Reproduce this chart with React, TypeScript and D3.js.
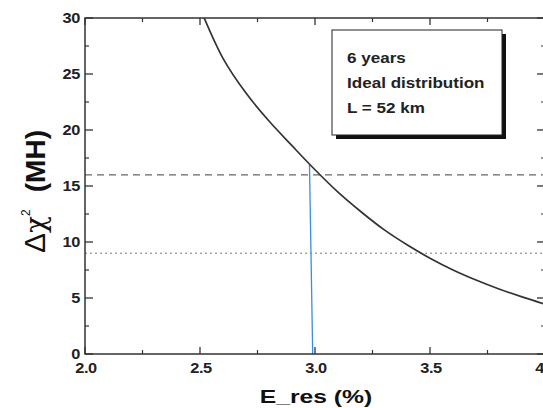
import React from "react";
import * as d3 from "d3";

const xValues = [2.5, 2.6, 2.7, 2.8, 2.9, 3.0, 3.1, 3.2, 3.3, 3.4, 3.5, 3.6, 3.7, 3.8, 3.9, 4.0];
const chiValues = [30.9, 26.4, 23.3, 20.8, 18.6, 16.45, 14.45, 12.7, 11.1, 9.75, 8.55, 7.5, 6.6, 5.8, 5.1, 4.45];
const xTicks = [2.0, 2.5, 3.0, 3.5, 4.0];
const xMinor = [2.25, 2.75, 3.25, 3.75];
const yTicks = [0, 5, 10, 15, 20, 25, 30];
const yMinor = [2.5, 7.5, 12.5, 17.5, 22.5, 27.5];
const dashedLevel = 16;
const dottedLevel = 9;
const blueLineX = [2.976, 2.99];
const blueLineY = [16.9, 0];
const legendLines = ["6 years", "Ideal distribution", "L = 52 km"];

export default function App() {
  const W = 543, H = 408;
  const left = 85, right = 545, top = 18, bottom = 354;
  const x = d3.scaleLinear().domain([2.0, 4.0]).range([left, right]);
  const y = d3.scaleLinear().domain([0, 30]).range([bottom, top]);
  const line = d3.line<number>().x((_, i) => x(xValues[i])).y((d) => y(d)).curve(d3.curveCatmullRom);
  const axisColor = "#333";
  const font = "Liberation Sans, Arial, sans-serif";
  const sx = 1.17;
  return (
    <svg width={W} height={H} style={{ position: "absolute", left: 0, top: 0, background: "#fff" }}>
      <defs>
        <clipPath id="plot">
          <rect x={left} y={top} width={right - left} height={bottom - top} />
        </clipPath>
      </defs>
      <rect x={0} y={0} width={W} height={H} fill="#fff" />
      <line x1={left} x2={right} y1={y(dashedLevel)} y2={y(dashedLevel)} stroke="#666" strokeWidth={1.3} strokeDasharray="7,5" />
      <line x1={left} x2={right} y1={y(dottedLevel)} y2={y(dottedLevel)} stroke="#777" strokeWidth={1} strokeDasharray="2,3" />
      <line x1={x(blueLineX[0])} x2={x(blueLineX[1])} y1={y(blueLineY[0])} y2={y(blueLineY[1])} stroke="#3a8ee0" strokeWidth={1.3} />
      <path d={line(chiValues) || ""} fill="none" stroke="#333" strokeWidth={1.7} clipPath="url(#plot)" />
      <rect x={left} y={top} width={right - left} height={bottom - top} fill="none" stroke={axisColor} strokeWidth={1.5} />
      {yTicks.map((t) => (
        <g key={"y" + t}>
          <line x1={left} x2={left + 8} y1={y(t)} y2={y(t)} stroke={axisColor} strokeWidth={1.3} />
          <line x1={right} x2={right - 8} y1={y(t)} y2={y(t)} stroke={axisColor} strokeWidth={1.3} />
          <g transform={`translate(${left - 5},${y(t) + 5}) scale(${sx},1)`}>
            <text x={0} y={0} textAnchor="end" fontFamily={font} fontWeight="bold" fontSize={14} fill="#222" letterSpacing={-0.3}>{t}</text>
          </g>
        </g>
      ))}
      {yMinor.map((t) => (
        <g key={"ym" + t}>
          <line x1={left} x2={left + 4} y1={y(t)} y2={y(t)} stroke={axisColor} strokeWidth={1.2} />
          <line x1={right} x2={right - 4} y1={y(t)} y2={y(t)} stroke={axisColor} strokeWidth={1.2} />
        </g>
      ))}
      {xTicks.map((t) => (
        <g key={"x" + t}>
          <line x1={x(t)} x2={x(t)} y1={bottom} y2={bottom - 7} stroke={axisColor} strokeWidth={1.3} />
          <line x1={x(t)} x2={x(t)} y1={top} y2={top + 7} stroke={axisColor} strokeWidth={1.3} />
          <g transform={`translate(${x(t) + 1},${bottom + 19}) scale(${sx},1)`}>
            <text x={0} y={0} textAnchor="middle" fontFamily={font} fontWeight="bold" fontSize={14} fill="#222" letterSpacing={-0.3}>{t.toFixed(1)}</text>
          </g>
        </g>
      ))}
      {xMinor.map((t) => (
        <g key={"xm" + t}>
          <line x1={x(t)} x2={x(t)} y1={bottom} y2={bottom - 4} stroke={axisColor} strokeWidth={1.2} />
          <line x1={x(t)} x2={x(t)} y1={top} y2={top + 4} stroke={axisColor} strokeWidth={1.2} />
        </g>
      ))}
      <g transform="translate(316,403) scale(1.3,1)">
        <text x={0} y={0} textAnchor="middle" fontFamily={font} fontWeight="bold" fontSize={19} fill="#111">E_res (%)</text>
      </g>
      <g transform="translate(45,0) rotate(-90)">
        <text x={-253} y={0} textAnchor="start" fontFamily={font} fill="#111">
          <tspan fontSize={30}>Δ</tspan>
          <tspan fontFamily="DejaVu Serif, serif" fontSize={28}>χ</tspan>
          <tspan fontSize={12} dy={-15}>2</tspan>
        </text>
        <text x={-130} y={0} textAnchor="end" fontFamily={font} fontWeight="bold" fontSize={28} fill="#111">(MH)</text>
      </g>
      <rect x={336} y={34} width={170} height={105} fill="#111" />
      <rect x={332} y={30} width={170} height={105} fill="#fff" stroke="#222" strokeWidth={1} />
      {legendLines.map((s, i) => (
        <g key={s} transform={`translate(347,${63 + i * 25}) scale(1.22,1)`}>
          <text x={0} y={0} fontFamily={font} fontWeight="bold" fontSize={14} fill="#222">{s}</text>
        </g>
      ))}
    </svg>
  );
}
